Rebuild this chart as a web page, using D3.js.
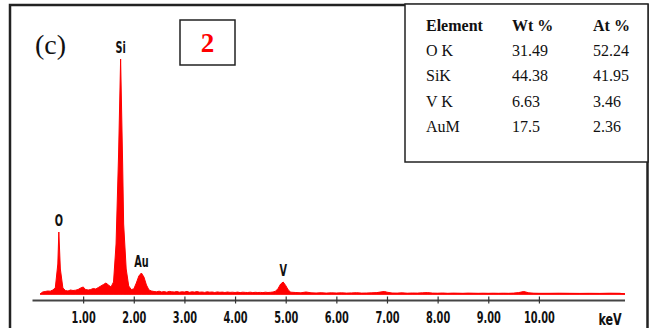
<!DOCTYPE html>
<meta charset="utf-8">
<style>

body {
  margin: 0;
  background: #fff;
}

text.cond {
  font-family: "Liberation Sans Narrow", "DejaVu Sans Condensed", sans-serif;
  font-weight: bold;
}

.tbl {
  font-family: "Liberation Serif", "Times New Roman", serif;
  font-size: 16px;
}

</style>
<body>
<script src="https://d3js.org/d3.v7.min.js"></script>
<script>

// EDS spectrum, [keV, counts]
var spectrum = [
  [0.15, 0], [0.20, 20], [0.25, 25], [0.30, 30], [0.35, 28], [0.40, 40], [0.45, 60],
  [0.50, 300], [0.52, 620], [0.55, 250], [0.60, 60], [0.65, 35], [0.70, 30], [0.75, 40],
  [0.80, 35], [0.85, 38], [0.90, 45], [0.95, 60], [1.00, 70], [1.05, 45], [1.10, 40],
  [1.15, 45], [1.20, 55], [1.25, 50], [1.30, 65], [1.35, 80], [1.40, 95], [1.45, 110],
  [1.50, 90], [1.55, 70], [1.60, 120], [1.65, 500], [1.70, 1400], [1.74, 2350], [1.78, 1300],
  [1.80, 700], [1.85, 250], [1.90, 80], [1.95, 45], [2.00, 50], [2.05, 110], [2.10, 180],
  [2.15, 210], [2.20, 170], [2.25, 90], [2.30, 40], [2.35, 30], [2.40, 25], [2.45, 22],
  [2.50, 28], [2.55, 20], [2.60, 24], [2.65, 18], [2.70, 26], [2.75, 22], [2.80, 20],
  [2.85, 25], [2.90, 18], [2.95, 22], [3.00, 20], [3.05, 26], [3.10, 17], [3.15, 22],
  [3.20, 19], [3.25, 24], [3.30, 18], [3.35, 20], [3.40, 16], [3.45, 22], [3.50, 18],
  [3.55, 20], [3.60, 15], [3.65, 21], [3.70, 17], [3.75, 19], [3.80, 15], [3.85, 20],
  [3.90, 16], [3.95, 18], [4.00, 15], [4.05, 19], [4.10, 14], [4.15, 18], [4.20, 16],
  [4.25, 15], [4.30, 18], [4.35, 14], [4.40, 17], [4.45, 15], [4.50, 16], [4.55, 14],
  [4.60, 18], [4.65, 15], [4.70, 17], [4.75, 20], [4.80, 28], [4.85, 55], [4.90, 100],
  [4.95, 120], [5.00, 85], [5.05, 40], [5.10, 18], [5.20, 15], [5.30, 12], [5.40, 20],
  [5.50, 12], [5.60, 10], [5.70, 13], [5.80, 9], [5.90, 12], [6.00, 10], [6.10, 12],
  [6.20, 9], [6.30, 11], [6.40, 13], [6.50, 9], [6.60, 10], [6.70, 12], [6.80, 14],
  [6.90, 22], [6.95, 25], [7.00, 18], [7.10, 10], [7.20, 9], [7.30, 12], [7.40, 8],
  [7.50, 10], [7.60, 9], [7.70, 12], [7.80, 14], [7.90, 9], [8.00, 8], [8.10, 10],
  [8.20, 7], [8.30, 9], [8.40, 8], [8.50, 7], [8.60, 9], [8.70, 8], [8.80, 7], [8.90, 8],
  [9.00, 7], [9.10, 8], [9.20, 7], [9.30, 8], [9.40, 7], [9.50, 9], [9.60, 14], [9.70, 25],
  [9.80, 12], [9.90, 8], [10.00, 7], [10.20, 7], [10.40, 8], [10.60, 7], [10.80, 6],
  [11.00, 7], [11.20, 6], [11.40, 8], [11.60, 7], [11.70, 0]
];

var peakNames = ["O", "Si", "Au", "V"],
    peakKeV = [0.52, 1.74, 2.15, 4.95],
    peakCounts = [620, 2350, 210, 120];

var tickValues = [1, 2, 3, 4, 5, 6, 7, 8, 9, 10];

var tableHeader = ["Element", "Wt %", "At %"],
    elements = ["O K", "SiK", "V K", "AuM"],
    wtPercent = ["31.49", "44.38", "6.63", "17.5"],
    atPercent = ["52.24", "41.95", "3.46", "2.36"];

var width = 656,
    height = 328;

var svg = d3.select("body").append("svg")
    .attr("width", width)
    .attr("height", height);

var x = d3.scaleLinear()
    .domain([0, 11.7])
    .range([32.5, 625]);

var y = d3.scaleLinear()
    .domain([0, 2400])
    .range([294, 54]);

// outer frame
svg.append("rect")
    .attr("x", 10)
    .attr("y", 5)
    .attr("width", 637.5)
    .attr("height", 330)
    .attr("fill", "none")
    .attr("stroke", "#222")
    .attr("stroke-width", 2.5);

// spectrum
var area = d3.area()
    .x(function(d) { return x(d[0]); })
    .y0(y(0))
    .y1(function(d) { return y(d[1]); });

svg.append("path")
    .datum(spectrum)
    .attr("d", area)
    .attr("fill", "#f00")
    .attr("stroke", "#f00")
    .attr("stroke-width", 1);

svg.append("line")
    .attr("x1", x(0.15))
    .attr("x2", x(11.7))
    .attr("y1", y(0))
    .attr("y2", y(0))
    .attr("stroke", "#f00")
    .attr("stroke-width", 1.5);

// axis
var axis = svg.append("g")
    .attr("transform", "translate(0,300.5)")
    .call(d3.axisBottom(x)
        .tickValues(tickValues)
        .tickSize(3)
        .tickPadding(8)
        .tickFormat(d3.format(".2f")));

axis.select(".domain")
    .attr("d", "M" + x.range()[0] + ",0H" + x.range()[1])
    .attr("stroke", "#444")
    .attr("stroke-width", 2);

axis.selectAll(".tick line")
    .attr("y1", -4)
    .attr("stroke", "#333")
    .attr("stroke-width", 1.2);

axis.selectAll(".tick text")
    .attr("class", "cond")
    .attr("fill", "#111")
    .style("font-size", "16.5px")
    .attr("transform", "scale(0.66,1)");

svg.append("text")
    .attr("class", "cond")
    .attr("x", 610)
    .attr("y", 325)
    .attr("text-anchor", "middle")
    .attr("fill", "#111")
    .style("font-size", "16.5px")
    .attr("transform", "translate(610,0) scale(0.75,1) translate(-610,0)")
    .text("keV");

// peak labels
svg.selectAll(".peak")
    .data(peakNames)
  .enter().append("text")
    .attr("class", "cond")
    .attr("text-anchor", "middle")
    .attr("fill", "#111")
    .style("font-size", "15px")
    .attr("transform", function(d, i) {
      return "translate(" + x(peakKeV[i]) + "," + (y(peakCounts[i]) - 6) + ") scale(0.72,1)";
    })
    .text(function(d) { return d; });

// panel letter and sample box
svg.append("text")
    .attr("x", 35)
    .attr("y", 54)
    .style("font-family", "'Liberation Serif', serif")
    .style("font-size", "28px")
    .attr("fill", "#111")
    .text("(c)");

svg.append("rect")
    .attr("x", 180)
    .attr("y", 20)
    .attr("width", 55)
    .attr("height", 45)
    .attr("fill", "none")
    .attr("stroke", "#222")
    .attr("stroke-width", 1.5);

svg.append("text")
    .attr("x", 207.5)
    .attr("y", 52)
    .attr("text-anchor", "middle")
    .style("font-family", "'Liberation Serif', serif")
    .style("font-weight", "bold")
    .style("font-size", "27px")
    .attr("fill", "#f00")
    .text("2");

// composition table
svg.append("rect")
    .attr("x", 405)
    .attr("y", 4)
    .attr("width", 243)
    .attr("height", 158)
    .attr("fill", "#fff")
    .attr("stroke", "#222")
    .attr("stroke-width", 1.5);

var colX = [426, 512, 593];

svg.selectAll(".head")
    .data(tableHeader)
  .enter().append("text")
    .attr("class", "tbl")
    .attr("x", function(d, i) { return colX[i]; })
    .attr("y", 31)
    .style("font-weight", "bold")
    .attr("fill", "#111")
    .text(function(d) { return d; });

var rows = svg.selectAll(".row")
    .data(elements)
  .enter().append("g")
    .attr("transform", function(d, i) { return "translate(0," + (56 + i * 25.3) + ")"; });

rows.append("text")
    .attr("class", "tbl")
    .attr("x", colX[0])
    .attr("fill", "#111")
    .text(function(d) { return d; });

rows.append("text")
    .attr("class", "tbl")
    .attr("x", colX[1])
    .attr("fill", "#111")
    .text(function(d, i) { return wtPercent[i]; });

rows.append("text")
    .attr("class", "tbl")
    .attr("x", colX[2])
    .attr("fill", "#111")
    .text(function(d, i) { return atPercent[i]; });

</script>
